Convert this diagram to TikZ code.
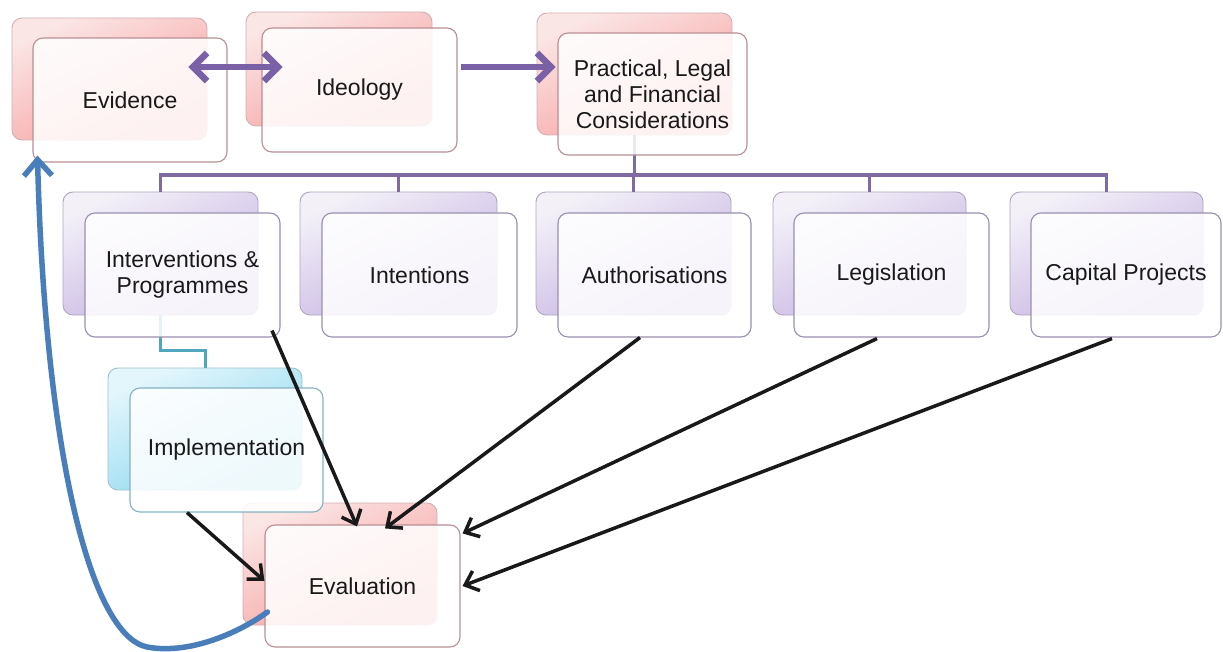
\documentclass[tikz,border=0pt]{standalone}
\usepackage{fontspec}
\setmainfont{Liberation Sans}
\usetikzlibrary{arrows.meta}
\definecolor{pinkTop}{HTML}{FBE6E6}
\definecolor{pinkBot}{HTML}{F79D9D}
\definecolor{pinkLine}{HTML}{B98E94}
\definecolor{lilTop}{HTML}{F3F0F8}
\definecolor{lilBot}{HTML}{C2AEE0}
\definecolor{lilLine}{HTML}{9A90AE}
\definecolor{cyTop}{HTML}{E3F6FC}
\definecolor{cyBot}{HTML}{88D6EF}
\definecolor{cyLine}{HTML}{86B2C0}
\definecolor{plum}{HTML}{7A61A6}
\definecolor{busPurple}{HTML}{7F6AA3}
\definecolor{tealLine}{HTML}{4FA6BE}
\definecolor{loopBlue}{HTML}{4A7EBB}
\tikzset{
  x=1pt, y=-1pt,
  back/.style={rounded corners=10pt, line width=0.9pt, inner sep=0pt},
  backpink/.style={back, draw=pinkLine!70, top color=pinkTop, bottom color=pinkBot, shading angle=25},
  backlil/.style={back, draw=lilLine!80, top color=lilTop, bottom color=lilBot, shading angle=25},
  backcy/.style={back, draw=cyLine!80, top color=cyTop, bottom color=cyBot, shading angle=25},
  front/.style={rounded corners=10pt, line width=1.1pt, fill=white, fill opacity=0.86,
    text opacity=1, align=center, inner sep=4pt, font=\fontsize{23}{26}\selectfont, text=black!90},
  frontpink/.style={front, draw=pinkLine},
  frontlil/.style={front, draw=lilLine},
  frontcy/.style={front, draw=cyLine},
  bus/.style={draw=busPurple, line width=3.5pt},
  flow/.style={draw=black!90, line width=3.5pt, -{Straight Barb[length=12pt,width=21pt]}},
  pflow/.style={draw=plum, line width=6.5pt, -{Straight Barb[length=14pt,width=28pt]}},
  pflowboth/.style={draw=plum, line width=6.5pt, {Straight Barb[length=14pt,width=28pt]}-{Straight Barb[length=14pt,width=28pt]}}
}
\begin{document}
\begin{tikzpicture}
\useasboundingbox (0,0) rectangle (1223,652);

% background shapes of each stacked pair
\node[backpink, minimum width=195pt, minimum height=122pt] (evb) at (109.5,79) {};
\node[backpink, minimum width=186pt, minimum height=114pt] (idb) at (339,69) {};
\node[backpink, minimum width=195pt, minimum height=122pt] (pcb) at (634.5,74) {};
\node[backlil, minimum width=195pt, minimum height=123pt] (ipb) at (160.5,253.5) {};
\node[backlil, minimum width=197pt, minimum height=123pt] (inb) at (398.5,253.5) {};
\node[backlil, minimum width=195pt, minimum height=123pt] (aub) at (633.5,253.5) {};
\node[backlil, minimum width=193pt, minimum height=123pt] (lgb) at (869.5,253.5) {};
\node[backlil, minimum width=193pt, minimum height=123pt] (cpb) at (1106.5,253.5) {};
\node[backcy, minimum width=194pt, minimum height=122pt] (imb) at (205,429) {};
\node[backpink, minimum width=194pt, minimum height=122pt] (evalb) at (340,564) {};

% hierarchy connectors
\coordinate (busy) at (0,175);
\draw[bus] (pcb.south) -- (pcb.south |- busy);
\draw[bus] (ipb.north) -- (ipb.north |- busy) -- (cpb.north |- busy) -- (cpb.north);
\draw[bus] (inb.north) -- (inb.north |- busy);
\draw[bus] (aub.north) -- (aub.north |- busy);
\draw[bus] (lgb.north) -- (lgb.north |- busy);
\coordinate (tealy) at (0,350);
\draw[tealLine, line width=3pt] (ipb.south) -- (ipb.south |- tealy) -- (imb.north |- tealy) -- (imb.north);

% foreground shapes with labels
\node[frontpink, minimum width=194pt, minimum height=124pt] (ev) at (130,100) {Evidence};
\node[frontpink, minimum width=195pt, minimum height=124pt] (id) at (359.5,90) {Ideology};
\node[frontpink, minimum width=189pt, minimum height=122pt] (pc) at (652.5,94) {Practical, Legal\\and Financial\\Considerations};
\node[frontlil, minimum width=195pt, minimum height=124pt] (ip) at (182.5,275) {Interventions \&\\Programmes};
\node[frontlil, minimum width=195pt, minimum height=124pt] (in) at (419.5,275) {Intentions};
\node[frontlil, minimum width=193pt, minimum height=124pt] (au) at (654.5,275) {Authorisations};
\node[frontlil, minimum width=195pt, minimum height=124pt] (lg) at (891.5,275) {Legislation};
\node[frontlil, minimum width=190pt, minimum height=124pt] (cp) at (1126,275) {Capital Projects};
\node[frontcy, minimum width=193pt, minimum height=124pt] (im) at (226.5,450) {Implementation};
\node[frontpink, minimum width=195pt, minimum height=122pt] (eval) at (362.5,586) {Evaluation};

% purple flow along the top row
\draw[pflowboth] ([xshift=-19pt,yshift=12pt]evb.east) -- ([xshift=37pt,yshift=2pt]idb.west);
\draw[pflow] ([xshift=3pt,yshift=23pt]id.east) -- ([xshift=19pt,yshift=7pt]pcb.west);

% everything feeds evaluation
\draw[flow] ([xshift=89.5pt,yshift=7pt]ip.south) -- ([xshift=-5.5pt,yshift=-2pt]eval.north);
\draw[flow] ([xshift=-14.5pt]au.south) -- ([xshift=22.5pt,yshift=-4pt]eval.north);
\draw[flow] ([xshift=-14.5pt,yshift=-1pt]lg.south) -- ([xshift=2pt,yshift=-9pt]eval.north east);
\draw[flow] ([xshift=-14pt,yshift=-1pt]cp.south) -- ([xshift=2pt]eval.east);
\draw[flow] ([xshift=-39.5pt]im.south) -- ([yshift=5pt]eval.west);

% feedback loop back to evidence
\draw[loopBlue, line width=5.5pt, line cap=round, -{Straight Barb[length=16pt,width=28pt]}]
  ([xshift=3pt,yshift=-26pt]eval.west)
  .. controls (240,632) and (190,655) .. (147,647)
  .. controls (90,635) and (45,450) .. ([xshift=5pt,yshift=7pt]ev.south west);
\end{tikzpicture}
\end{document}
